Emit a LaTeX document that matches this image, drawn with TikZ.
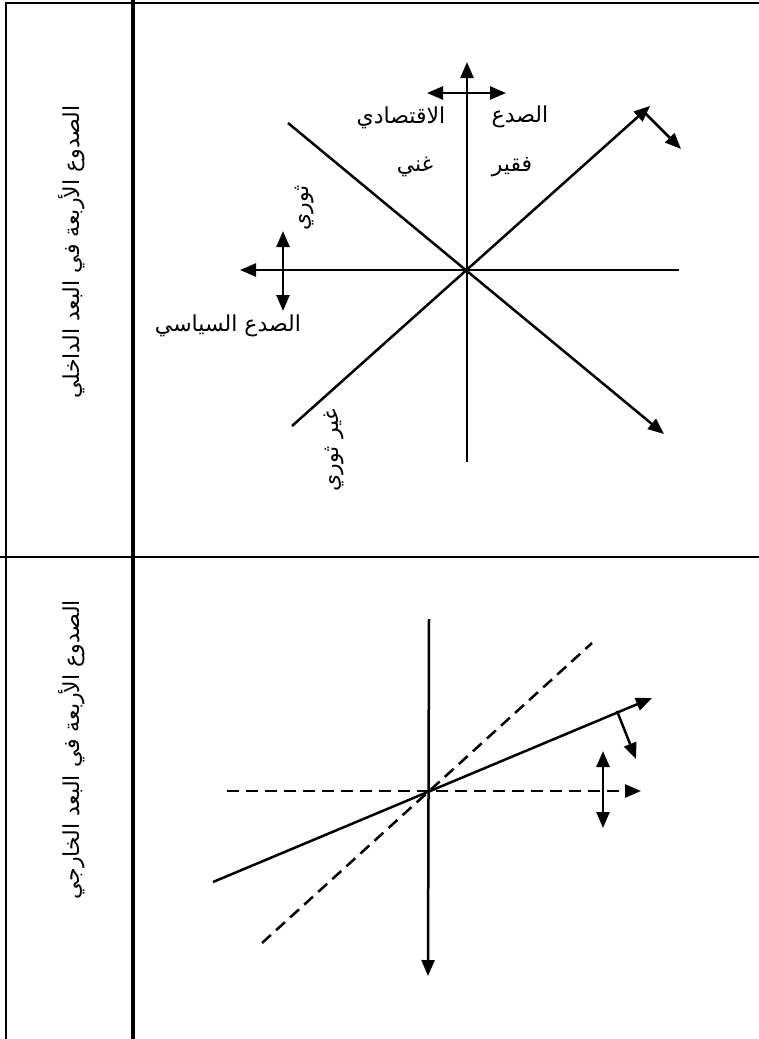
\documentclass[tikz,border=0pt]{standalone}
\usepackage{fontspec}
\usetikzlibrary{arrows.meta}
\newfontfamily\arabicfont[Script=Arabic]{DejaVu Sans}
\TeXXeTstate=1
\begin{document}
\begin{tikzpicture}[x=1pt,y=-1pt,
  axis/.style={line width=2.5pt},
  arr/.style={axis,-{Triangle[length=16pt,width=13pt]}},
  darr/.style={axis,{Triangle[length=16pt,width=13pt]}-{Triangle[length=16pt,width=13pt]}},
  dashline/.style={axis,dash pattern=on 12pt off 7pt},
  frame/.style={line width=2.2pt},
  lbl/.style={inner sep=0pt,font=\arabicfont\fontsize{22}{26}\selectfont},
  side/.style={inner sep=0pt,rotate=90,font=\arabicfont\fontsize{22}{26}\selectfont}]
\useasboundingbox (0,0) rectangle (759,1039);
% frame
\coordinate (tl) at (6,3); \coordinate (tr) at (759,3);
\coordinate (bl) at (6,1039);
\coordinate (dt) at (133,0); \coordinate (db) at (133,1039);
\coordinate (ml) at (0,557); \coordinate (mr) at (759,557);
\draw[frame] (tr) -- (tl) -- (bl);
\draw[line width=3.2pt] (dt) -- (db);
\draw[frame] (ml) -- (mr);
% side labels
\node[side] (s1) at (72,252) {\beginR الصدوع الأربعة في البعد الداخلي\endR};
\node[side] (s2) at (72,750) {\beginR الصدوع الأربعة في البعد الخارجي\endR};
% top panel
\coordinate (O1) at (467,270);
\coordinate (vT) at (467,62); \coordinate (vB) at (467,462);
\coordinate (hL) at (240,270); \coordinate (hR) at (679,270);
\coordinate (eL) at (427,93); \coordinate (eR) at (506,93);
\coordinate (pT) at (283,231); \coordinate (pB) at (283,311);
\coordinate (d1a) at (288,123); \coordinate (d1b) at (664,434);
\coordinate (d2a) at (292,426); \coordinate (d2b) at (650,106);
\coordinate (sa) at (644,112); \coordinate (sb) at (681,149);
\draw[arr] (vB) -- (vT);
\draw[arr] (hR) -- (hL);
\draw[darr] (eL) -- (eR);
\draw[darr] (pT) -- (pB);
\draw[arr] (d1a) -- (d1b);
\draw[arr] (d2a) -- (d2b);
\draw[arr] (sa) -- (sb);
\node[lbl] (e1) at (520,117) {\beginR الصدع\endR};
\node[lbl] (e2) at (401,118) {\beginR الاقتصادي\endR};
\node[lbl] (rich) at (415,167) {\beginR غني\endR};
\node[lbl] (poor) at (512,167) {\beginR فقير\endR};
\node[side] (rev) at (304,208) {\beginR ثوري\endR};
\node[lbl] (pol) at (228,326) {\beginR الصدع السياسي\endR};
\node[side] (nrev) at (334,450) {\beginR غير ثوري\endR};
% bottom panel
\coordinate (O2) at (428,791);
\coordinate (wT) at (429,619); \coordinate (wB) at (428,976);
\coordinate (gL) at (227,791); \coordinate (gR) at (641,791);
\coordinate (qa) at (262,943); \coordinate (qb) at (592,643);
\coordinate (ra) at (213,882); \coordinate (rb) at (652,698);
\coordinate (ta) at (617,711); \coordinate (tb) at (636,759);
\coordinate (uT) at (603,751); \coordinate (uB) at (603,828);
\draw[arr] (wT) -- (wB);
\draw[dashline,-{Triangle[length=16pt,width=13pt]}] (gL) -- (gR);
\draw[dashline] (qa) -- (qb);
\draw[arr] (ra) -- (rb);
\draw[arr] (ta) -- (tb);
\draw[darr] (uT) -- (uB);
\end{tikzpicture}
\end{document}
